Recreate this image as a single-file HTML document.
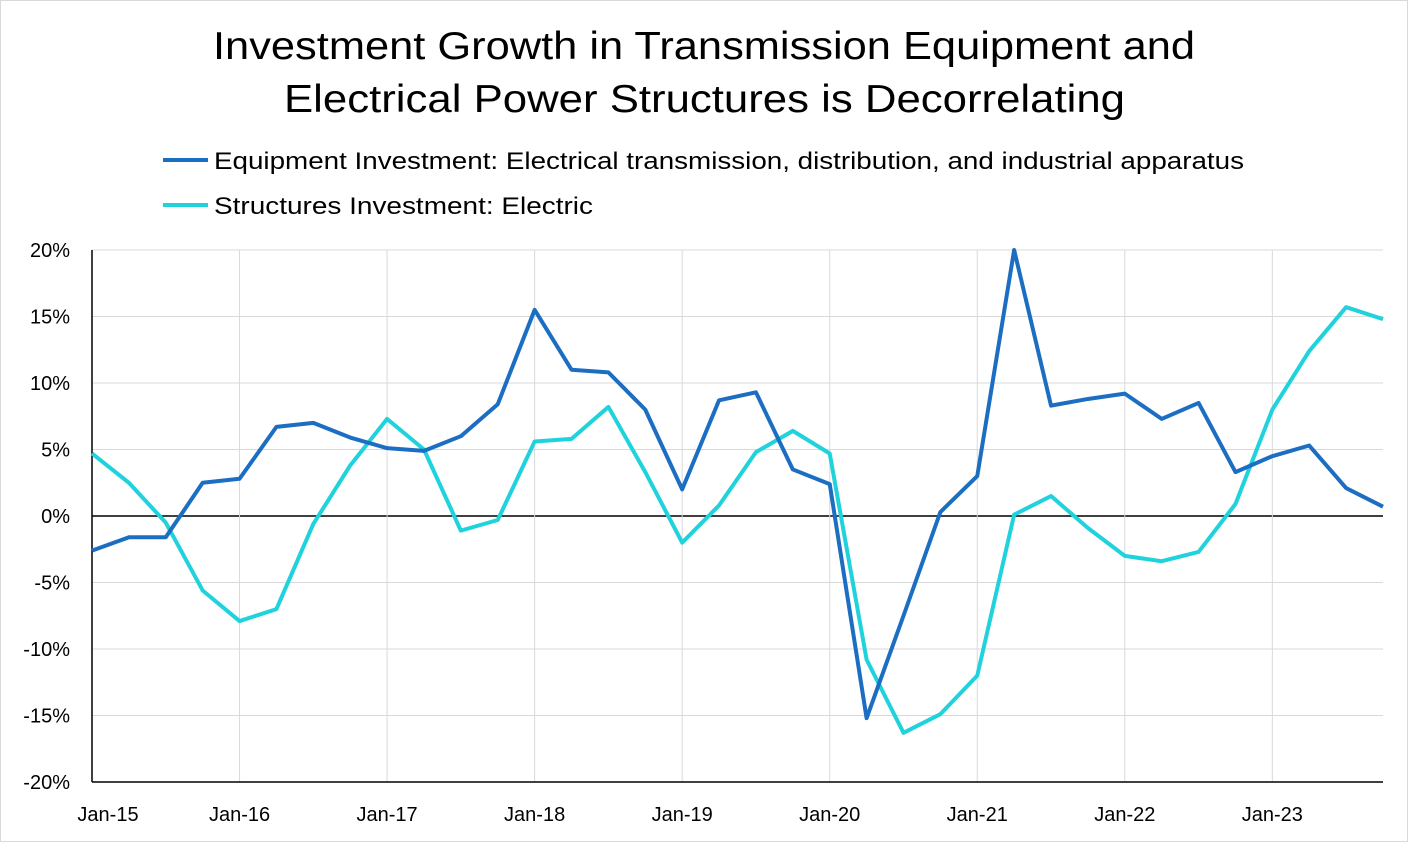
<!DOCTYPE html>
<html><head><meta charset="utf-8"><style>
html,body{margin:0;padding:0;background:#fff;}
body{width:1408px;height:842px;overflow:hidden;font-family:"Liberation Sans",sans-serif;}
#frame{position:absolute;left:0;top:0;width:1406px;height:840px;border:1px solid #d9d9d9;}
</style></head><body>
<div id="frame"></div>
<svg id="chart" width="1408" height="842" style="position:absolute;left:0;top:0">
<text x="213" y="59" textLength="982" lengthAdjust="spacingAndGlyphs" font-size="39" fill="#000">Investment Growth in Transmission Equipment and</text>
<text x="284" y="112" textLength="841" lengthAdjust="spacingAndGlyphs" font-size="39" fill="#000">Electrical Power Structures is Decorrelating</text>
<g>
<line x1="163" y1="160" x2="208" y2="160" stroke="#1b6ec2" stroke-width="4"/>
<text x="214" y="169" textLength="1030" lengthAdjust="spacingAndGlyphs" font-size="24">Equipment Investment: Electrical transmission, distribution, and industrial apparatus</text>
<line x1="163" y1="205" x2="208" y2="205" stroke="#1fd2dc" stroke-width="4"/>
<text x="214" y="214" textLength="379" lengthAdjust="spacingAndGlyphs" font-size="24">Structures Investment: Electric</text>
</g>
<g id="grid"></g><g id="axes"></g><g id="series"></g>
</svg>
<script>
const yTicks=[20,15,10,5,0,-5,-10,-15,-20];
const xLabels=["Jan-15","Jan-16","Jan-17","Jan-18","Jan-19","Jan-20","Jan-21","Jan-22","Jan-23"];
const equipment=[-2.6,-1.6,-1.6,2.5,2.8,6.7,7.0,5.9,5.1,4.9,6.0,8.4,15.5,11.0,10.8,8.0,2.0,8.7,9.3,3.5,2.4,-15.2,-7.5,0.3,3.0,20.0,8.3,8.8,9.2,7.3,8.5,3.3,4.5,5.3,2.1,0.7];
const structures=[4.7,2.5,-0.5,-5.6,-7.9,-7.0,-0.6,3.8,7.3,5.0,-1.1,-0.3,5.6,5.8,8.2,3.3,-2.0,0.8,4.8,6.4,4.7,-10.8,-16.3,-14.9,-12.0,0.1,1.5,-0.9,-3.0,-3.4,-2.7,0.9,8.0,12.4,15.7,14.8];
const NS="http://www.w3.org/2000/svg";
const x0=92,x1=1383,yTop=250,yBot=782;
function xs(i){return x0+(x1-x0)*i/35;}
function ys(v){return yTop+(20-v)/40*(yBot-yTop);}
function mk(tag,attrs,parent){const e=document.createElementNS(NS,tag);for(const k in attrs)e.setAttribute(k,attrs[k]);parent.appendChild(e);return e;}
const grid=document.getElementById('grid'),axes=document.getElementById('axes'),ser=document.getElementById('series');
yTicks.forEach(t=>{
  const l=mk('line',{x1:x0,x2:x1,y1:ys(t),y2:ys(t),stroke:t===0?'#000':'#d9d9d9','stroke-width':t===0?1.5:1},grid);
  
  
  const tx=mk('text',{x:70,y:ys(t)+7,'text-anchor':'end','font-size':20},axes);
  tx.textContent=t+'%';
  
  
});
xLabels.forEach((lab,k)=>{
  const x=xs(k*4);
  if(k>0){const l=mk('line',{x1:x,x2:x,y1:yTop,y2:yBot,stroke:'#d9d9d9','stroke-width':1},grid);
  
  }
  const tx=mk('text',{x:x+(k===0?16:0),y:821,'text-anchor':'middle','font-size':20},axes);
  tx.textContent=lab;
  
  
});
const ya=mk('line',{x1:x0,x2:x0,y1:yTop,y2:yBot,stroke:'#000','stroke-width':1.5},axes);


const xa=mk('line',{x1:x0,x2:x1,y1:yBot,y2:yBot,stroke:'#000','stroke-width':1.5},axes);


function draw(arr,color,name){
  const p=mk('polyline',{points:arr.map((v,i)=>xs(i)+','+ys(v)).join(' '),fill:'none',stroke:color,'stroke-width':4,'stroke-linejoin':'round'},ser);
  
  
}
draw(structures,'#1fd2dc','structures-line');
draw(equipment,'#1b6ec2','equipment-line');
</script>
</body></html>
